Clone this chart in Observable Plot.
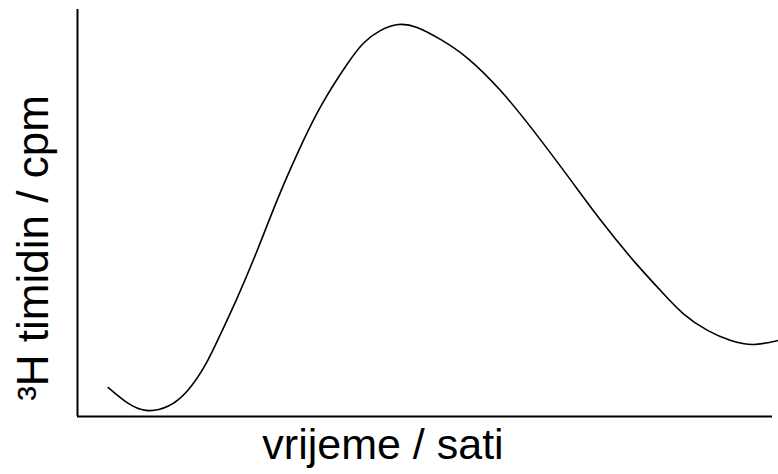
<!DOCTYPE html>
<html>
<head>
<meta charset="utf-8">
<script src="https://cdn.jsdelivr.net/npm/d3@7"></script>
<script src="https://cdn.jsdelivr.net/npm/@observablehq/plot@0.6"></script>
<style>
  html, body { margin: 0; padding: 0; background: #fff; }
  #chart svg { display: block; }
</style>
</head>
<body>
<div id="chart"></div>
<script>
// Time after stimulation (hours) and ³H-thymidine incorporation (relative cpm)
const hours = [3.1, 5.0, 6.9, 9.1, 11.1, 12.9, 14.4, 16.1, 18.1, 20.1, 22.2, 24.5, 27.0, 28.8, 30.5, 32.3,
               34.2, 36.6, 39.3, 42.6, 45.9, 49.4, 52.7, 56.0, 58.7, 61.0, 63.5, 65.8, 68.1, 70.6];
const cpm   = [7.1, 3.4, 1.5, 2.5, 6.4, 12.8, 20.2, 29.2, 40.8, 53.1, 64.9, 76.2, 86.0, 91.7, 94.8, 96.3,
               95.6, 92.6, 88.0, 80.1, 70.3, 59.0, 48.2, 38.3, 31.0, 25.3, 21.1, 18.7, 17.7, 18.7];

const xLabel = "vrijeme / sati";
const yLabel = "³H timidin / cpm";

const data = hours.map((h, i) => ({hours: h, cpm: cpm[i]}));

const font = "'Liberation Sans', Arial, sans-serif";

const chart = Plot.plot({
  width: 778,
  height: 474,
  marginLeft: 77,
  marginRight: 6,
  marginTop: 9,
  marginBottom: 58,
  style: {fontFamily: font, background: "#fff", color: "#000"},
  x: {domain: [0, 70], axis: null},
  y: {domain: [0, 100], axis: null},
  marks: [
    Plot.ruleX([0], {stroke: "#000", strokeWidth: 2}),
    Plot.ruleY([0], {stroke: "#000", strokeWidth: 2}),
    Plot.line(data, {x: "hours", y: "cpm", curve: "natural", stroke: "#000", strokeWidth: 1.6}),
    Plot.text([xLabel], {
      text: d => d, frameAnchor: "bottom", lineAnchor: "bottom", textAnchor: "middle",
      dx: -42, dy: 42, fontSize: 43, fill: "#000"
    }),
    Plot.text([yLabel], {
      text: d => d, frameAnchor: "left", lineAnchor: "bottom", textAnchor: "middle", rotate: -90,
      dx: -30, dy: 35, fontSize: 44, fill: "#000"
    })
  ]
});

document.getElementById("chart").appendChild(chart);
</script>
</body>
</html>
